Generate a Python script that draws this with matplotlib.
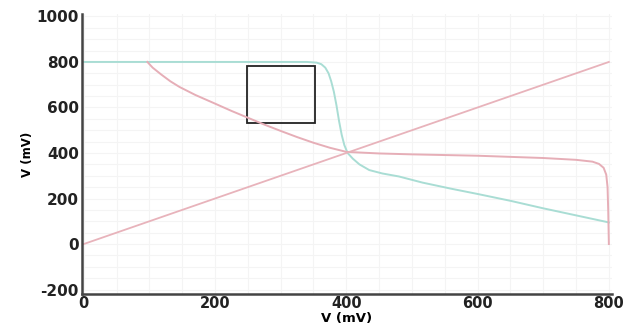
import numpy as np
import matplotlib
matplotlib.use('Agg')
import matplotlib.pyplot as plt
from matplotlib.patches import Rectangle

plt.rcParams['axes.unicode_minus'] = False

# Передаточна характеристика (бірюзова)
vtc_x = [0, 340, 355, 362, 368, 373, 377, 381, 385, 389, 393, 397, 402, 410, 420, 435, 455, 480,
         516, 560, 600, 650, 700, 750, 800]
vtc_y = [800, 800, 797, 790, 775, 750, 715, 670, 610, 540, 480, 435, 400, 375, 350, 325, 310, 297,
         270, 243, 220, 190, 157, 126, 95]

# Крива навантаження (рожева)
load_x = [97, 105, 118, 132, 146, 170, 200, 225, 250, 275, 300, 325, 350, 375, 400, 450, 500, 600,
          700, 750, 775, 785, 792, 796, 798, 799, 800]
load_y = [800, 775, 745, 715, 690, 655, 617, 585, 555, 525, 497, 470, 445, 423, 405, 398, 394, 388,
          378, 370, 362, 352, 335, 305, 250, 150, 0]

# Пряма Vin = Vout
diag_x = [0, 800]
diag_y = [0, 800]

# Прямокутник (x0, y0, ширина, висота)
box = (249, 530, 104, 253)

xticks = [0, 200, 400, 600, 800]
yticks = [-200, 0, 200, 400, 600, 800, 1000]

fig = plt.figure(figsize=(6.24, 3.29), dpi=100)
ax = fig.add_axes([0.131, 0.106, 0.850, 0.851])

ax.set_xticks(np.arange(0, 801, 50), minor=True)
ax.set_yticks(np.arange(-200, 1001, 50), minor=True)
ax.grid(True, which='both', color='#f4f4f4', linewidth=0.8)
ax.set_axisbelow(True)

ax.plot(vtc_x, vtc_y, color='#a9ddd4', linewidth=1.4)
ax.plot(load_x, load_y, color='#e6aeb7', linewidth=1.4)
ax.plot(diag_x, diag_y, color='#e8b3bb', linewidth=1.3)
ax.add_patch(Rectangle((box[0], box[1]), box[2], box[3], fill=False,
                       edgecolor='#222222', linewidth=1.3))

ax.set_xlim(-3, 805)
ax.set_ylim(-220, 1010)
ax.set_xticks(xticks)
ax.set_yticks(yticks)
ax.tick_params(which='both', length=0, labelsize=11, pad=2)
ax.tick_params(axis='x', labelsize=10.5, pad=1)
for lab in ax.get_xticklabels() + ax.get_yticklabels():
    lab.set_fontweight('bold')
    lab.set_color('#222222')

for s in ['top', 'right']:
    ax.spines[s].set_visible(False)
for s in ['left', 'bottom']:
    ax.spines[s].set_color('#444444')
    ax.spines[s].set_linewidth(1.8)

ax.set_xlabel("V (mV)", fontsize=9.5, fontweight='bold', labelpad=1)
ax.set_ylabel("V (mV)", fontsize=8.5, fontweight='bold', labelpad=2)

fig.savefig("out.png", dpi=100)
